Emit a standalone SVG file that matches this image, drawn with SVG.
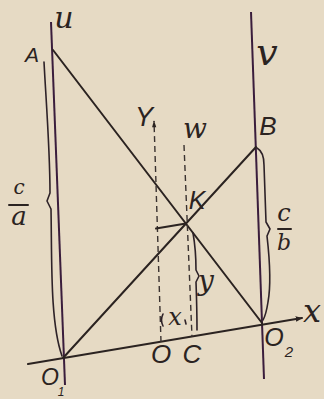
<svg xmlns="http://www.w3.org/2000/svg" width="324" height="399" viewBox="0 0 324 399">
<defs>
<style>
.ink{stroke:#2b2321;stroke-width:2;fill:none;stroke-linecap:round}
.pur{stroke:#3a1d3c;stroke-width:2;fill:none}
.dash{stroke:#3a3230;stroke-width:1.4;fill:none;stroke-dasharray:6 4}
.brace{stroke:#2e2228;stroke-width:1.6;fill:none;stroke-linecap:round;stroke-linejoin:round}
.cap{font-family:"Liberation Sans","DejaVu Sans",sans-serif;font-style:italic;fill:#2b2321;text-anchor:middle}
.low{font-family:"DejaVu Serif","Liberation Serif",serif;font-style:italic;fill:#2b2321;text-anchor:middle}
</style>
<marker id="arr" viewBox="0 0 10 10" refX="9" refY="5" markerWidth="7" markerHeight="7" orient="auto" markerUnits="userSpaceOnUse">
<path d="M0,1 L10,5 L0,9 Z" fill="#2b2321"/>
</marker>
<marker id="arrY" viewBox="0 0 10 10" refX="9" refY="5" markerWidth="8" markerHeight="7" orient="auto" markerUnits="userSpaceOnUse">
<path d="M0,2 L10,5 L0,8 Z" fill="#2b2321"/>
</marker>
</defs>
<rect width="324" height="399" fill="#e6dac4"/>
<g id="connectors">
<line id="line-u" class="pur" x1="51" y1="22" x2="65" y2="385"/>
<line id="line-v" class="pur" x1="251" y1="12" x2="264" y2="379"/>
<line id="AO2" class="ink" x1="53" y1="50" x2="262" y2="323"/>
<line id="O1B" class="ink" x1="63" y1="358" x2="256" y2="147"/>
<line id="x-axis" class="ink" x1="28" y1="364" x2="302" y2="318" marker-end="url(#arr)"/>
<line id="Y-axis" class="dash" x1="161" y1="342" x2="154" y2="121" marker-end="url(#arrY)"/>
<line id="w-line" class="dash" x1="184" y1="145" x2="192" y2="337"/>
<line id="KY" class="ink" x1="156" y1="228.5" x2="186" y2="223.5" stroke-width="1.6"/>
<path id="brace-ca" class="brace" d="M44 62 C46 100 50 150 50 193 L47 201 L51 209 C52 260 50 322 62 356"/>
<path id="brace-cb" class="brace" d="M257 148 Q264 152 264 165 L266 222 L270 229 L267 236 Q272 280 268 302 Q266 315 263 320"/>
<path id="brace-y" class="brace" d="M193 233 Q196 250 196 270 L199 276 L196 282 Q197 310 197 330" stroke-width="2.2"/>
<path id="brace-x" class="brace" d="M163 314 Q160 320 163 326 M185 320 L186 324" stroke-width="1.8"/>
</g>
<g id="node-A"><text class="cap" x="32" y="62" font-size="21">A</text></g>
<g id="node-u"><text class="low" x="64" y="28" font-size="30">u</text></g>
<g id="node-v"><text class="low" x="267" y="65" font-size="38">v</text></g>
<g id="node-B"><text class="cap" x="268" y="135" font-size="26">B</text></g>
<g id="node-Y"><text class="cap" x="144" y="126" font-size="27">Y</text></g>
<g id="node-w"><text class="low" x="195" y="138" font-size="28">w</text></g>
<g id="node-K"><text class="cap" x="197" y="209" font-size="25">K</text></g>
<g id="node-y"><text class="low" x="206" y="290" font-size="28">y</text></g>
<g id="node-x-small"><text class="low" x="175" y="325" font-size="24">x</text></g>
<g id="node-x"><text class="low" x="312" y="322" font-size="32">x</text></g>
<g id="node-O"><text class="cap" x="161" y="363" font-size="26">O</text></g>
<g id="node-C"><text class="cap" x="192" y="363" font-size="26">C</text></g>
<g id="node-O1"><text class="cap" x="50" y="385" font-size="23">O</text><text class="cap" x="61" y="396" font-size="12">1</text></g>
<g id="node-O2"><text class="cap" x="274" y="346" font-size="25">O</text><text class="cap" x="289" y="357" font-size="15">2</text></g>
<g id="node-ca">
<text class="low" x="19" y="194" font-size="20">c</text>
<line class="ink" x1="9" y1="205" x2="28" y2="205"/>
<text class="low" x="19" y="225" font-size="26">a</text>
</g>
<g id="node-cb">
<text class="low" x="284" y="221" font-size="24">c</text>
<line class="ink" x1="278" y1="229" x2="291" y2="229"/>
<text class="low" x="284" y="250" font-size="22">b</text>
</g>
</svg>
